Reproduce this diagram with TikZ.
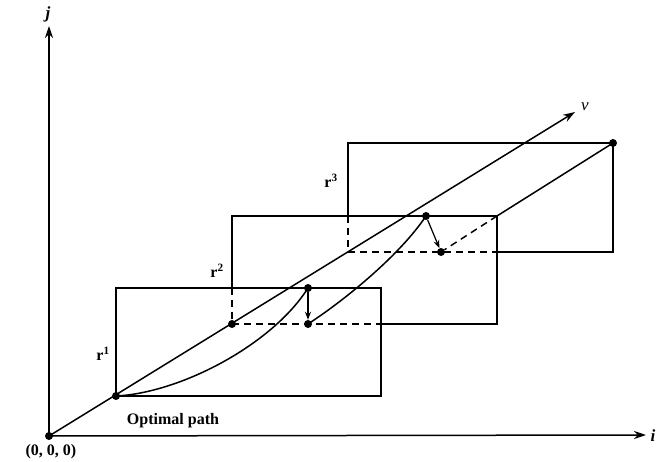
\documentclass[tikz,border=0pt]{standalone}
\usepackage{fontspec}
\setmainfont{Liberation Serif}
\usetikzlibrary{arrows.meta}
\begin{document}
\begin{tikzpicture}[x=1pt,y=-1pt,
  ln/.style={line width=1.5pt},
  dsh/.style={line width=1.5pt, dash pattern=on 7pt off 5pt},
  dot/.style={circle,fill=black,inner sep=0pt,minimum size=8pt},
  axisarrow/.style={line width=1.5pt,-{Stealth[length=12pt,width=8pt]}},
  smallarrow/.style={line width=1.2pt,-{Stealth[length=8pt,width=6pt]}},
  lbl/.style={font=\fontsize{16}{18}\selectfont\bfseries, inner sep=1pt},
  axlbl/.style={font=\fontsize{17}{19}\selectfont\bfseries\itshape, inner sep=1pt}
]
\useasboundingbox (0,0) rectangle (657,462);
% dots
\node[dot] (o) at (49,436) {};
\node[dot] (p1) at (116,396) {};
\node[dot] (p2) at (232,324) {};
\node[dot] (q1) at (308,288) {};
\node[dot] (q2) at (308,324) {};
\node[dot] (s1) at (426,216) {};
\node[dot] (s2) at (441,252) {};
\node[dot] (t) at (613,143) {};
% axis ends
\coordinate (jend) at (49,26);
\coordinate (iend) at (646,435);
\coordinate (vend) at (575,112);
% box corners
\coordinate (b1tl) at (116,288);
\coordinate (b1tr) at (381,288);
\coordinate (b1br) at (381,396);
\coordinate (b2tl) at (232,216);
\coordinate (b2tr) at (497,216);
\coordinate (b2br) at (497,324);
\coordinate (b2lm) at (232,288);
\coordinate (b2bm) at (381,324);
\coordinate (b3tl) at (348,143);
\coordinate (b3lm) at (348,216);
\coordinate (b3bl) at (348,252);
\coordinate (b3bm) at (497,252);
\coordinate (b3br) at (613,252);
% axes
\draw[axisarrow] (o.center) -- (jend);
\draw[axisarrow] (o.center) -- (iend);
\draw[axisarrow] (o.center) -- (vend);
\node[axlbl] (jl) at (48,14) {j};
\node[axlbl] (il) at (653,436) {i};
\node[font=\fontsize{17}{19}\selectfont\itshape, inner sep=1pt] (vl) at (585,107) {v};
% box 1
\draw[ln] (p1.center) -- (b1tl) -- (b1tr) -- (b1br) -- (p1.center);
% box 2
\draw[ln] (b2lm) -- (b2tl) -- (b2tr) -- (b2br) -- (b2bm);
\draw[dsh] (b2lm) -- (p2.center) -- (b2bm);
% box 3
\draw[ln] (b3lm) -- (b3tl) -- (t.center) -- (b3br) -- (b3bm);
\draw[dsh] (b3lm) -- (b3bl) -- (b3bm);
% diagonal from box 3 corner
\draw[ln] (t.center) -- (b2tr);
\draw[dsh] (b2tr) -- (s2);
% curves
\draw[ln] (p1.center) .. controls (180,393) and (272,345) .. (q1.center);
\draw[ln] (q2.center) .. controls (345,300) and (400,255) .. (s1.center);
% small arrows
\draw[smallarrow] (q1) -- (q2);
\draw[smallarrow] (s1) -- (s2);
% labels
\node[lbl] (r1) at (103,354) {r\textsuperscript{1}};
\node[lbl] (r2) at (217,271) {r\textsuperscript{2}};
\node[lbl] (r3) at (331,181) {r\textsuperscript{3}};
\node[lbl] (op) at (173,421) {Optimal path};
\node[lbl] (org) at (51,452) {(0, 0, 0)};
\end{tikzpicture}
\end{document}
